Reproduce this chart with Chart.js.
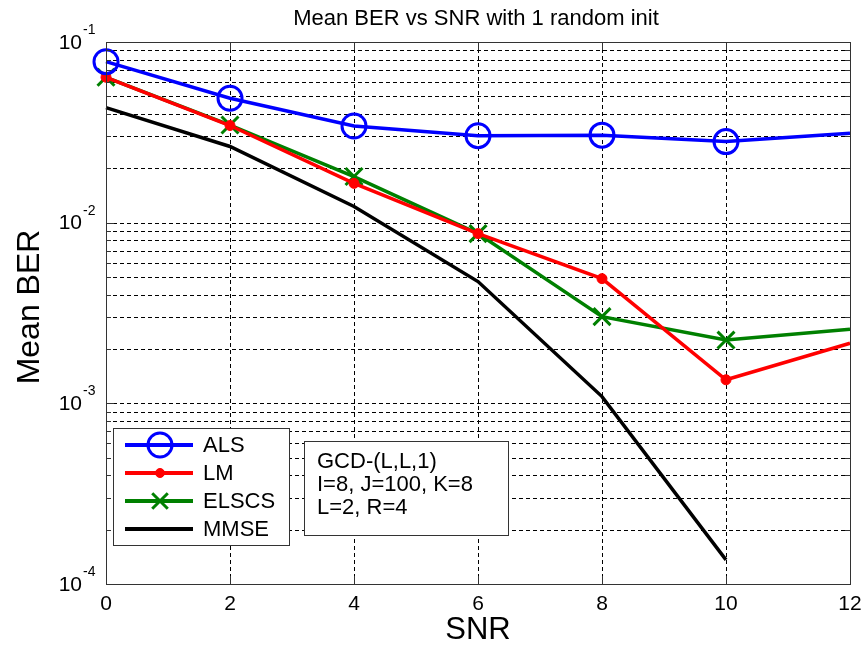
<!DOCTYPE html>
<html>
<head>
<meta charset="utf-8">
<title>Mean BER vs SNR</title>
<script src="https://cdn.jsdelivr.net/npm/chart.js@4/dist/chart.umd.min.js"></script>
<style>
  html, body { margin: 0; padding: 0; background: #fff; }
  #wrap { width: 865px; height: 645px; }
</style>
</head>
<body>
<div id="wrap"><canvas id="berChart" width="865" height="645"></canvas></div>
<script>
// data
const snr = [0, 2, 4, 6, 8, 10, 12];
const alsBer = [0.0778, 0.0488, 0.0343, 0.0303, 0.0305, 0.0281, 0.0313];
const lmBer = [0.0638, 0.0345, 0.0165, 0.0087, 0.0049, 0.00135, 0.00215];
const elscsBer = [0.0638, 0.0347, 0.0180, 0.0087, 0.00302, 0.00224, 0.00257];
const mmseBer = [0.0433, 0.0264, 0.0123, 0.00472, 0.00109, 0.000136];

const xTicks = [0, 2, 4, 6, 8, 10, 12];
const decadeExps = [-4, -3, -2, -1];
const titleText = 'Mean BER vs SNR with 1 random init';
const infoLines = ['GCD-(L,L,1)', 'I=8, J=100, K=8', 'L=2, R=4'];

const FONT = '"Liberation Sans", Arial, sans-serif';

function toPoints(vals) {
  return vals.map((v, i) => ({ x: snr[i], y: v }));
}

// no marker on the point at the right edge
function markerSizes(vals, r) {
  return vals.map((v, i) => (snr[i] === 12 ? 0 : r));
}

// every log tick: 1..9 x 10^k, then 10^-1
const yTicks = [];
for (let e = -4; e < -1; e++) {
  for (let m = 1; m <= 9; m++) yTicks.push(m * Math.pow(10, e));
}
yTicks.push(0.1);

// dashed grid, drawn under the lines
const gridPlugin = {
  id: 'dashGrid',
  beforeDatasetsDraw(chart) {
    const ctx = chart.ctx;
    const area = chart.chartArea;
    const xs = chart.scales.x;
    const ys = chart.scales.y;
    ctx.save();
    ctx.strokeStyle = '#000';
    ctx.lineWidth = 1;
    ctx.setLineDash([4, 3]);
    ctx.beginPath();
    xTicks.forEach(v => {
      const px = Math.round(xs.getPixelForValue(v)) + 0.5;
      ctx.moveTo(px, area.top); ctx.lineTo(px, area.bottom);
    });
    yTicks.forEach(v => {
      const py = Math.round(ys.getPixelForValue(v)) + 0.5;
      ctx.moveTo(area.left, py); ctx.lineTo(area.right, py);
    });
    ctx.stroke();
    ctx.restore();
  }
};

const decorPlugin = {
  id: 'decor',
  afterDraw(chart) {
    const ctx = chart.ctx;
    const area = chart.chartArea;
    const xs = chart.scales.x;
    const ys = chart.scales.y;
    ctx.save();

    // frame
    ctx.strokeStyle = '#333';
    ctx.lineWidth = 1;
    ctx.strokeRect(area.left + 0.5, area.top + 0.5, area.right - area.left, area.bottom - area.top);

    // tick marks inside the frame
    ctx.beginPath();
    xTicks.forEach(v => {
      const px = Math.round(xs.getPixelForValue(v)) + 0.5;
      ctx.moveTo(px, area.bottom); ctx.lineTo(px, area.bottom - 8);
      ctx.moveTo(px, area.top); ctx.lineTo(px, area.top + 8);
    });
    yTicks.forEach(v => {
      const py = Math.round(ys.getPixelForValue(v)) + 0.5;
      const len = Math.abs(Math.log10(v) - Math.round(Math.log10(v))) < 1e-6 ? 8 : 5;
      ctx.moveTo(area.left, py); ctx.lineTo(area.left + len, py);
      ctx.moveTo(area.right, py); ctx.lineTo(area.right - len, py);
    });
    ctx.stroke();

    // title
    ctx.fillStyle = '#000';
    ctx.textAlign = 'center';
    ctx.textBaseline = 'middle';
    ctx.font = '22px ' + FONT;
    ctx.fillText(titleText, (area.left + area.right) / 2 - 2, 19);

    // x tick labels
    ctx.font = '21px ' + FONT;
    xTicks.forEach(v => {
      ctx.fillText(String(v), xs.getPixelForValue(v), 604);
    });

    // y tick labels 10^k
    decadeExps.forEach(e => {
      const py = ys.getPixelForValue(Math.pow(10, e));
      ctx.font = '21px ' + FONT;
      ctx.textAlign = 'right';
      ctx.fillText('10', 82, py + 1);
      ctx.font = '14px ' + FONT;
      ctx.textAlign = 'left';
      ctx.fillText('-' + Math.abs(e), 83, py - 12);
    });

    // axis titles
    ctx.textAlign = 'center';
    ctx.font = '31px ' + FONT;
    ctx.fillText('SNR', (area.left + area.right) / 2, 630);
    ctx.save();
    ctx.translate(30, 307);
    ctx.rotate(-Math.PI / 2);
    ctx.font = '32px ' + FONT;
    ctx.fillText('Mean BER', 0, 0);
    ctx.restore();

    // legend box
    ctx.fillStyle = '#fff';
    ctx.fillRect(113, 428, 176, 117);
    ctx.strokeStyle = '#333';
    ctx.lineWidth = 1;
    ctx.strokeRect(113.5, 428.5, 176, 117);
    chart.data.datasets.forEach((ds, i) => {
      const y = 445 + i * 28;
      ctx.strokeStyle = ds.borderColor;
      ctx.lineWidth = 4;
      ctx.beginPath();
      ctx.moveTo(125, y); ctx.lineTo(193, y);
      ctx.stroke();
      if (ds.legendRadius > 0) {
        ctx.fillStyle = ds.pointBackgroundColor;
        ctx.strokeStyle = ds.pointBorderColor;
        ctx.lineWidth = ds.pointBorderWidth;
        Chart.helpers.drawPoint(ctx, {
          pointStyle: ds.pointStyle,
          radius: ds.legendRadius,
          borderWidth: ds.pointBorderWidth,
          rotation: 0
        }, 160, y);
      }
      ctx.fillStyle = '#000';
      ctx.textAlign = 'left';
      ctx.font = '22px ' + FONT;
      ctx.fillText(ds.label, 203, y + 1);
    });

    // info box
    ctx.fillStyle = '#fff';
    ctx.fillRect(304, 441, 204, 94);
    ctx.strokeStyle = '#333';
    ctx.lineWidth = 1;
    ctx.strokeRect(304.5, 441.5, 204, 94);
    ctx.fillStyle = '#000';
    ctx.font = '22px ' + FONT;
    infoLines.forEach((t, i) => {
      ctx.fillText(t, 317, 462 + i * 23);
    });

    ctx.restore();
  }
};

const ctx = document.getElementById('berChart').getContext('2d');
new Chart(ctx, {
  type: 'line',
  data: {
    datasets: [
      {
        label: 'ALS',
        data: toPoints(alsBer),
        borderColor: '#0000ff',
        borderWidth: 3.5,
        pointStyle: 'circle',
        pointRadius: markerSizes(alsBer, 12),
        legendRadius: 12,
        pointBorderWidth: 3,
        pointBorderColor: '#0000ff',
        pointBackgroundColor: 'rgba(0,0,0,0)',
        clip: false
      },
      {
        label: 'LM',
        data: toPoints(lmBer),
        borderColor: '#ff0000',
        borderWidth: 3.5,
        pointStyle: 'circle',
        pointRadius: markerSizes(lmBer, 5),
        legendRadius: 4.5,
        pointBorderWidth: 1,
        pointBorderColor: '#ff0000',
        pointBackgroundColor: '#ff0000',
        clip: false
      },
      {
        label: 'ELSCS',
        data: toPoints(elscsBer),
        borderColor: '#008000',
        borderWidth: 3.5,
        pointStyle: 'crossRot',
        pointRadius: markerSizes(elscsBer, 12),
        legendRadius: 11,
        pointBorderWidth: 3,
        pointBorderColor: '#008000',
        pointBackgroundColor: '#008000',
        clip: false
      },
      {
        label: 'MMSE',
        data: toPoints(mmseBer),
        borderColor: '#000000',
        borderWidth: 3.5,
        pointRadius: 0,
        legendRadius: 0,
        clip: false
      }
    ]
  },
  options: {
    responsive: false,
    animation: false,
    layout: { padding: { left: 106, top: 42, right: 14, bottom: 61 } },
    plugins: {
      legend: { display: false },
      tooltip: { enabled: false }
    },
    scales: {
      x: {
        type: 'linear',
        min: 0,
        max: 12,
        afterBuildTicks: scale => { scale.ticks = xTicks.map(v => ({ value: v })); },
        ticks: { display: false },
        grid: { display: true, color: 'rgba(0,0,0,0)', drawTicks: false },
        border: { display: false }
      },
      y: {
        type: 'logarithmic',
        min: 1e-4,
        max: 1e-1,
        afterBuildTicks: scale => { scale.ticks = yTicks.map(v => ({ value: v })); },
        ticks: { display: false },
        grid: { display: true, color: 'rgba(0,0,0,0)', drawTicks: false },
        border: { display: false }
      }
    }
  },
  plugins: [gridPlugin, decorPlugin]
});
</script>
</body>
</html>
